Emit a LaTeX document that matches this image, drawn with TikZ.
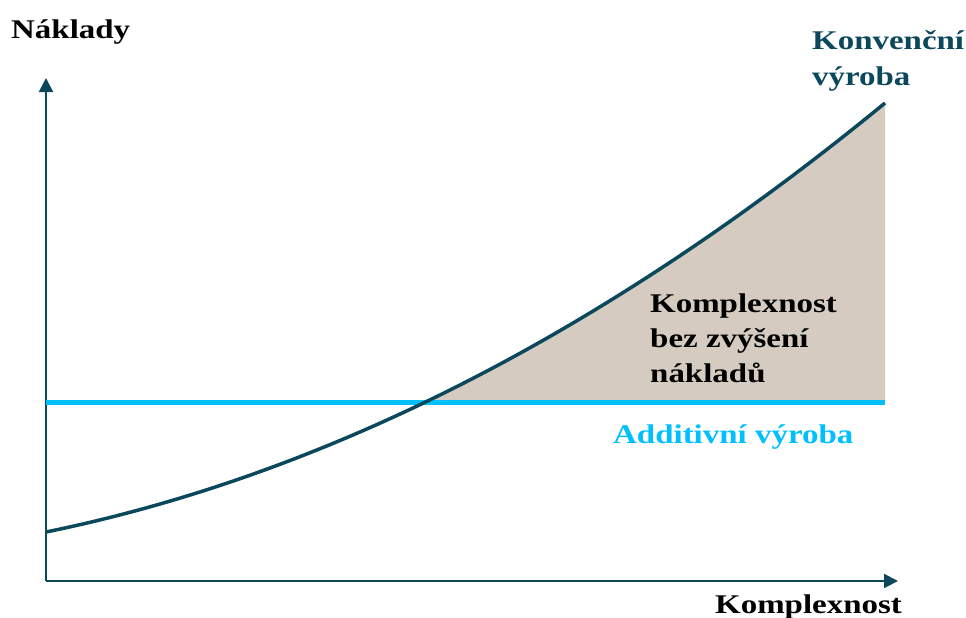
\documentclass[tikz,border=0pt]{standalone}
\usepackage{fontspec}
\setmainfont{Liberation Serif}
\usetikzlibrary{arrows.meta}
\definecolor{curvecol}{RGB}{12,72,92}
\definecolor{gapfill}{RGB}{213,203,192}
\definecolor{amblue}{RGB}{0,191,255}
\tikzset{
  axisline/.style={draw=curvecol, line width=2pt, -{Triangle[length=14pt,width=14pt]}},
  lbl/.style={inner sep=0pt, font=\fontsize{27}{35}\selectfont\bfseries, anchor=base west, align=left},
}
\newcommand{\wide}[1]{\scalebox{1.22}[1]{#1}}
\begin{document}
\begin{tikzpicture}[x=1pt,y=-1pt]
\useasboundingbox (0,0) rectangle (966,618);
\coordinate (O) at (46,581);
\coordinate (ytip) at (46,78);
\coordinate (xtip) at (898,581);
\coordinate (c0) at (46,532);
\coordinate (c3) at (885,103);
\coordinate (b0) at (46,402);
\coordinate (b1) at (885,402);
% shaded region
\begin{scope}
  \clip (0,0) rectangle (966,402);
  \fill[gapfill] (c0) .. controls (325.67,474.9) and (605.33,332.57) .. (c3) -- (b1) -- (b0) -- cycle;
\end{scope}
% axes
\draw[axisline] (O) -- (ytip);
\draw[axisline] (O) -- (xtip);
% additive line
\draw[amblue, line width=5pt] (b0) -- (b1);
% conventional curve
\draw[curvecol, line width=3.5pt] (c0) .. controls (325.67,474.9) and (605.33,332.57) .. (c3);
% labels
\node[lbl] (ylab) at (11,38) {\wide{Náklady}};
\node[lbl] (xlab) at (715,613) {\wide{Komplexnost}};
\node[lbl, text=curvecol] (konv1) at (812,50) {\wide{Konvenční}};
\node[lbl, text=curvecol] (konv2) at (812,85) {\wide{výroba}};
\node[lbl] (k1) at (650,312) {\wide{Komplexnost}};
\node[lbl] (k2) at (650,347) {\wide{bez zvýšení}};
\node[lbl] (k3) at (650,382) {\wide{nákladů}};
\node[lbl, text=amblue] (addl) at (613,443) {\wide{Additivní výroba}};
\end{tikzpicture}
\end{document}
